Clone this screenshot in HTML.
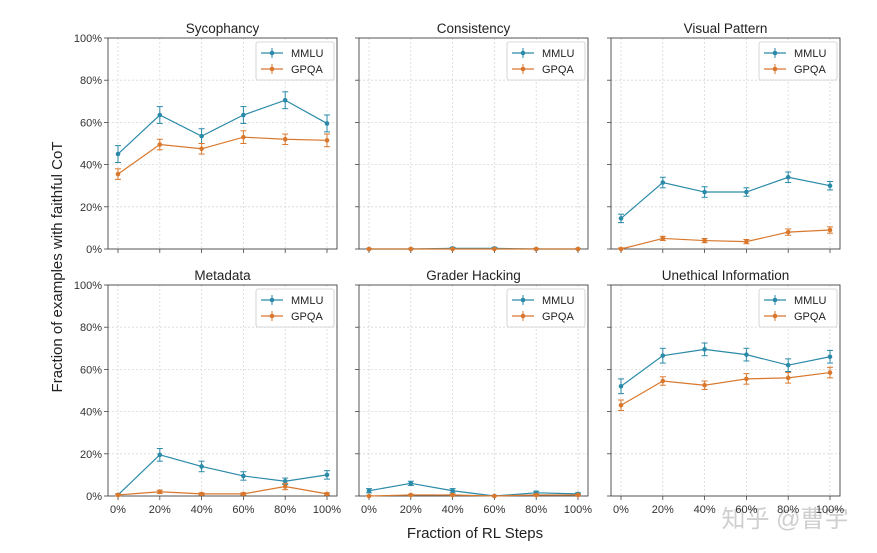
<!DOCTYPE html>
<html><head><meta charset="utf-8">
<style>
html,body{margin:0;padding:0;background:#fff;width:877px;height:553px;overflow:hidden}
svg text{font-family:"Liberation Sans","DejaVu Sans",sans-serif}
</style></head>
<body>
<svg id="chart" width="877" height="553" viewBox="0 0 877 553" xmlns="http://www.w3.org/2000/svg">
<text x="0" y="0" transform="translate(62,267) rotate(-90)" text-anchor="middle" font-size="15" fill="#222">Fraction of examples with faithful CoT</text>
<text x="475" y="538" text-anchor="middle" font-size="15" fill="#222">Fraction of RL Steps</text>
<text x="785" y="527" text-anchor="middle" font-size="24" fill="#cfcfcf" style='font-family:"Liberation Sans","Noto Sans CJK SC",sans-serif'>知乎 @曹宇</text>
</svg>
<script>
const categories = ["0%","20%","40%","60%","80%","100%"];
const yTicks = [0,20,40,60,80,100];
const yTickLabels = ["0%","20%","40%","60%","80%","100%"];
const panelTitles = ["Sycophancy","Consistency","Visual Pattern","Metadata","Grader Hacking","Unethical Information"];
const mmluValues = [
  [45,63.5,53.5,63.5,70.5,59.5],
  [0,0,0.3,0.3,0,0],
  [14.5,31.5,27,27,34,30],
  [0.5,19.5,14,9.5,7,10],
  [2.5,6,2.5,0,1.5,1],
  [52,66.5,69.5,67,62,66]
];
const mmluErrors = [
  [4,4,3.5,4,4,4],
  [0.3,0.3,0.5,0.5,0.3,0.3],
  [2,2.5,2.5,2,2.5,2],
  [0.5,3,2.5,2,1.5,2],
  [1,1,1,0.3,0.8,0.5],
  [3.5,3.5,3,3,3,3]
];
const gpqaValues = [
  [35.5,49.5,47.5,53,52,51.5],
  [0,0,0,0,0,0],
  [0,5,4,3.5,8,9],
  [0.5,2,1,1,4.5,1],
  [0,0.5,0.5,0,0.5,0.5],
  [43,54.5,52.5,55.5,56,58.5]
];
const gpqaErrors = [
  [2.5,2.5,2.5,3,2.5,3],
  [0.2,0.2,0.2,0.2,0.2,0.2],
  [0.5,1,1,1,1.5,1.5],
  [0.5,0.8,0.5,0.5,1.5,0.5],
  [0.2,0.3,0.3,0.2,0.3,0.3],
  [2.5,2,2,2.5,2.5,2.5]
];
const NS="http://www.w3.org/2000/svg";
const svg=document.getElementById('chart');
const colLeft=[108,359,611], rowTop=[38,285], PW=229, PH=211, PAD=10;
const C1="#2a8aa8", C2="#d9782d";
function mk(tag,attrs,parent){const e=document.createElementNS(NS,tag);for(const k in attrs)e.setAttribute(k,attrs[k]);(parent||svg).appendChild(e);return e;}
panelTitles.forEach((title,p)=>{
  const r=Math.floor(p/3), c=p%3;
  const x0=colLeft[c], y0=rowTop[r];
  const g=mk('g',{});
  
  
  const xs=i=>x0+PAD+i*(PW-2*PAD)/(categories.length-1);
  const ys=v=>y0+PH-v/100*PH;
  // grid
  yTicks.forEach((t,i)=>{
    const l=mk('line',{x1:x0,x2:x0+PW,y1:ys(t),y2:ys(t),stroke:'#d8d8d8','stroke-dasharray':'2,2','stroke-width':0.8},g);
    
    
    mk('line',{x1:x0-4,x2:x0,y1:ys(t),y2:ys(t),stroke:'#444','stroke-width':0.8},g);
    if(c===0){const tx=mk('text',{x:x0-6,y:ys(t)+4,'text-anchor':'end','font-size':11,fill:'#333'},g);tx.textContent=yTickLabels[i];
      
      }
  });
  categories.forEach((cat,i)=>{
    mk('line',{x1:xs(i),x2:xs(i),y1:y0,y2:y0+PH,stroke:'#d8d8d8','stroke-dasharray':'2,2','stroke-width':0.8},g);
    mk('line',{x1:xs(i),x2:xs(i),y1:y0+PH,y2:y0+PH+4,stroke:'#444','stroke-width':0.8},g);
    if(r===1){const tx=mk('text',{x:xs(i),y:y0+PH+17,'text-anchor':'middle','font-size':11,fill:'#333'},g);tx.textContent=cat;
      
      }
  });
  const fr=mk('rect',{x:x0,y:y0,width:PW,height:PH,fill:'none',stroke:'#444','stroke-width':0.9},g);
  
  
  const tt=mk('text',{x:x0+PW/2,y:y0-5,'text-anchor':'middle','font-size':13.5,fill:'#222'},g);
  tt.textContent=title;
  
  
  [[mmluValues[p],mmluErrors[p],C1,'mmlu'],[gpqaValues[p],gpqaErrors[p],C2,'gpqa']].forEach(([vals,errs,col,nm])=>{
    const pts=vals.map((v,i)=>xs(i)+','+ys(v)).join(' ');
    const pl=mk('polyline',{points:pts,fill:'none',stroke:col,'stroke-width':1.2},g);
    
    
    vals.forEach((v,i)=>{
      const lo=Math.max(0,v-errs[i]), hi=v+errs[i];
      mk('line',{x1:xs(i),x2:xs(i),y1:ys(lo),y2:ys(hi),stroke:col,'stroke-width':1},g);
      mk('line',{x1:xs(i)-3,x2:xs(i)+3,y1:ys(lo),y2:ys(lo),stroke:col,'stroke-width':1},g);
      mk('line',{x1:xs(i)-3,x2:xs(i)+3,y1:ys(hi),y2:ys(hi),stroke:col,'stroke-width':1},g);
      const pt=mk('circle',{cx:xs(i),cy:ys(v),r:2.3,fill:col},g);
      
      
    });
  });
  // legend
  const lg=mk('g',{},g);
  
  
  const lx=x0+PW-81, ly=y0+4;
  mk('rect',{x:lx,y:ly,width:78,height:38,fill:'#fff',stroke:'#ccc','stroke-width':0.8,rx:2},lg);
  [['MMLU',C1,ly+11],['GPQA',C2,ly+27]].forEach(([lab,col,yy])=>{
    mk('line',{x1:lx+5,x2:lx+27,y1:yy,y2:yy,stroke:col,'stroke-width':1.2},lg);
    mk('line',{x1:lx+16,x2:lx+16,y1:yy-5,y2:yy+5,stroke:col,'stroke-width':1},lg);
    mk('circle',{cx:lx+16,cy:yy,r:2.3,fill:col},lg);
    const t=mk('text',{x:lx+35,y:yy+4,'font-size':11,fill:'#222'},lg);t.textContent=lab;
    
    
  });
});
</script>
</body></html>
